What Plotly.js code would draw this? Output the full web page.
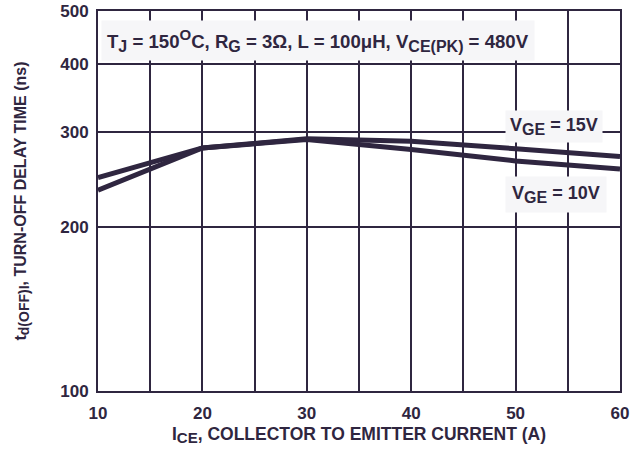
<!DOCTYPE html>
<html>
<head>
<meta charset="utf-8">
<script src="https://cdn.plot.ly/plotly-3.0.1.min.js"></script>
<style>
html,body{margin:0;padding:0;background:#fff;}
#chart{width:644px;height:452px;}
</style>
</head>
<body>
<div id="chart"></div>
<script>
// Data
var currentA = [10, 20, 30, 40, 50, 60];
var tdoffVge15 = [247, 280, 291, 288, 279, 270];
var tdoffVge10 = [234, 280, 290, 278, 265, 256];
var xTickVals = [10, 15, 20, 25, 30, 35, 40, 45, 50, 55, 60];
var xTickText = ['10', '', '20', '', '30', '', '40', '', '50', '', '60'];
var yTickVals = [100, 200, 300, 400, 500];
var yTickText = ['100', '200', '300', '400', '500'];

var ink = '#2f2640';
var fontFam = '"Liberation Sans", Arial, sans-serif';

function sub(t, px) { return '<sub><span style="font-size:' + px + 'px">' + t + '</span></sub>'; }
function sup(t, px) { return '<sup><span style="font-size:' + px + 'px">' + t + '</span></sup>'; }

var traces = [
  {x: currentA, y: tdoffVge15, mode: 'lines', name: 'VGE = 15V',
   line: {color: ink, width: 5}, hoverinfo: 'skip'},
  {x: currentA, y: tdoffVge10, mode: 'lines', name: 'VGE = 10V',
   line: {color: ink, width: 5}, hoverinfo: 'skip'}
];

var layout = {
  width: 644, height: 452,
  margin: {l: 98, r: 24, t: 11, b: 61},
  paper_bgcolor: '#ffffff', plot_bgcolor: '#ffffff',
  showlegend: false,
  font: {family: fontFam, color: ink, size: 17},
  xaxis: {
    range: [10, 60], tickvals: xTickVals, ticktext: xTickText,
    showgrid: true, gridcolor: ink, gridwidth: 2,
    showline: true, linecolor: ink, linewidth: 2, mirror: true,
    zeroline: false, ticks: '', ticklabelstandoff: 6,
    tickfont: {family: fontFam, size: 17, color: ink, weight: 'bold'},
    title: {text: '<b>I' + sub('CE', 15) + ', COLLECTOR TO EMITTER CURRENT (A)</b>',
            font: {family: fontFam, size: 17.5, color: ink}, standoff: 5}
  },
  yaxis: {
    type: 'log', range: [2, Math.log10(500)],
    tickvals: yTickVals, ticktext: yTickText,
    showgrid: true, gridcolor: ink, gridwidth: 2,
    showline: true, linecolor: ink, linewidth: 2, mirror: true,
    zeroline: false, ticks: '', ticklabelstandoff: 4,
    tickfont: {family: fontFam, size: 17, color: ink, weight: 'bold'},
    title: {text: '<b>t' + sub('d(OFF)I', 14) + ', TURN-OFF DELAY TIME (ns)</b>',
            font: {family: fontFam, size: 16, color: ink}, standoff: 30}
  },
  annotations: [
    {xref: 'paper', yref: 'paper', x: 0.006, y: 0.976, xanchor: 'left', yanchor: 'top',
     text: '<b>T' + sub('J', 16) + ' = 150' + sup('O', 15) + 'C, R' + sub('G', 16) +
           ' = 3Ω, L = 100μH, V' + sub('CE(PK)', 16) + ' = 480V</b>',
     showarrow: false, bgcolor: '#f6f6f8', borderpad: 5,
     font: {family: fontFam, size: 18.6, color: ink}},
    {xref: 'paper', yref: 'paper', x: 0.873, y: 0.697, xanchor: 'center', yanchor: 'middle',
     text: '<b>V' + sub('GE', 16) + ' = 15V</b>',
     showarrow: false, bgcolor: '#f6f6f8', borderpad: 4,
     font: {family: fontFam, size: 18, color: ink}},
    {xref: 'paper', yref: 'paper', x: 0.877, y: 0.518, xanchor: 'center', yanchor: 'middle',
     text: '<b>V' + sub('GE', 16) + ' = 10V</b>',
     showarrow: false, bgcolor: '#f6f6f8', borderpad: 6,
     font: {family: fontFam, size: 18, color: ink}}
  ]
};

Plotly.newPlot('chart', traces, layout, {staticPlot: true, displayModeBar: false});
</script>
</body>
</html>
